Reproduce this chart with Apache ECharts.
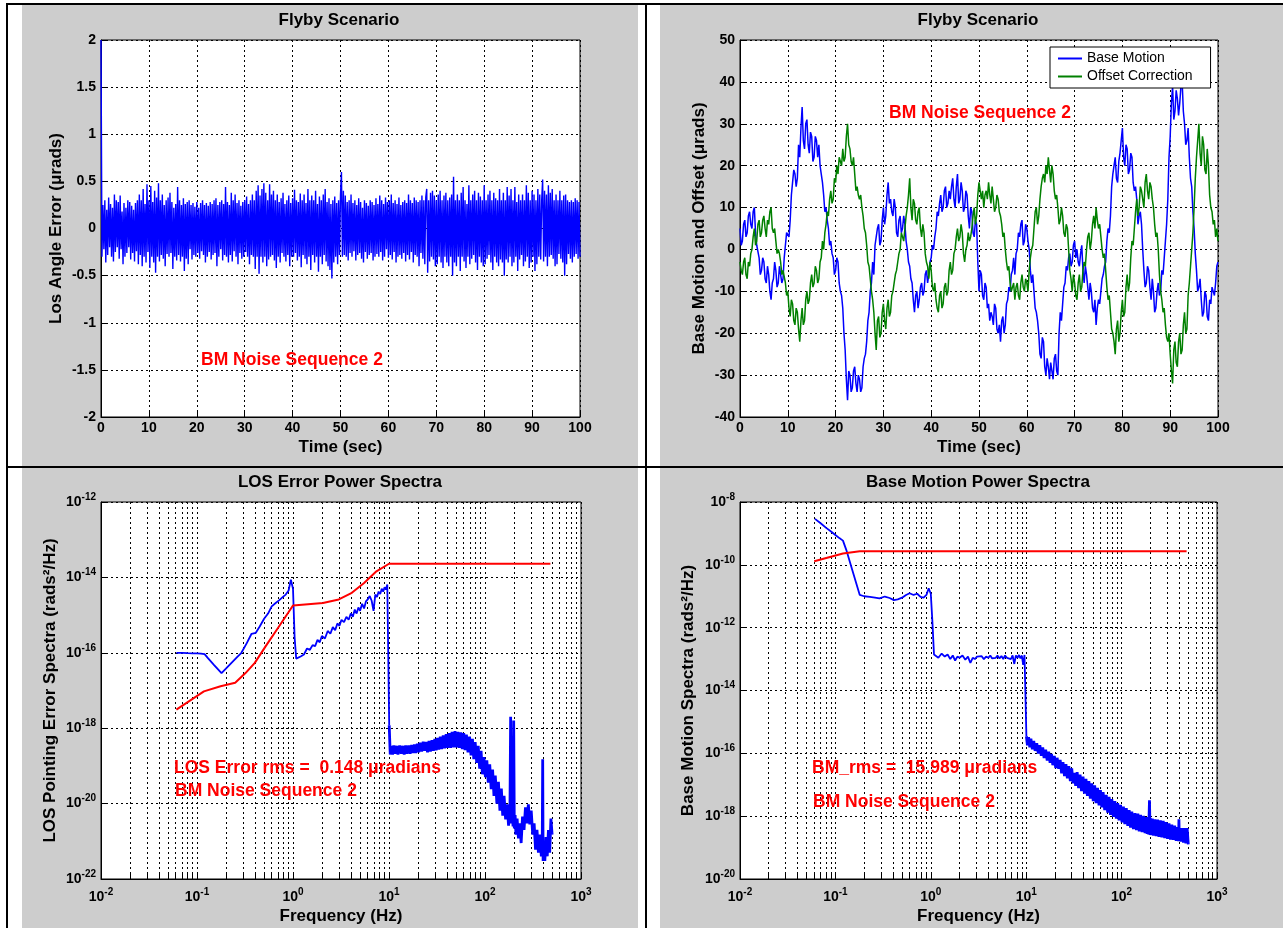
<!DOCTYPE html>
<html><head><meta charset="utf-8">
<script src="https://cdn.jsdelivr.net/npm/echarts@6/dist/echarts.min.js"></script>
<style>
html,body{margin:0;padding:0;background:#fff;width:1283px;height:928px;overflow:hidden;position:relative}
.p{position:absolute;background:#cdcdcd}
.k{position:absolute;background:#000}
#c{position:absolute;left:0;top:0;width:1283px;height:928px}
</style></head><body>
<div class="p" style="left:22px;top:5px;width:616px;height:461px"></div>
<div class="p" style="left:660px;top:5px;width:623px;height:461px"></div>
<div class="p" style="left:22px;top:468px;width:616px;height:460px"></div>
<div class="p" style="left:660px;top:468px;width:623px;height:460px"></div>
<div class="k" style="left:6px;top:3px;width:1277px;height:2px"></div>
<div class="k" style="left:6px;top:3px;width:2px;height:925px"></div>
<div class="k" style="left:645px;top:3px;width:2px;height:925px"></div>
<div class="k" style="left:6px;top:466px;width:1277px;height:2px"></div>
<div id="c"></div>
<script>
// ---------- DATA ----------
const DT_LOS = 0.2;   // sample step (s) of the LOS angle error trace
const losAngleError = [
 2.0,-0.3,0.25,-0.22,0.3,-0.36,0.2,-0.28,0.33,-0.2,
 0.26,-0.3,0.22,-0.35,0.36,-0.25,0.3,-0.2,0.28,-0.32,
 0.35,-0.22,0.18,-0.38,0.27,-0.3,0.22,-0.26,0.3,-0.2,
 0.28,-0.33,0.24,-0.26,0.2,-0.35,0.27,-0.24,0.3,-0.38,
 0.36,-0.28,0.3,-0.4,0.42,-0.3,0.26,-0.36,0.47,-0.25,
 0.3,-0.42,0.45,-0.3,0.28,-0.36,0.4,-0.47,0.33,-0.3,
 0.48,-0.35,0.3,-0.28,0.36,-0.32,0.25,-0.4,0.3,-0.27,
 0.33,-0.3,0.38,-0.26,0.28,-0.43,0.22,-0.3,0.26,-0.34,
 0.44,-0.28,0.3,-0.35,0.25,-0.3,0.32,-0.45,0.26,-0.32,
 0.28,-0.38,0.3,-0.22,0.25,-0.33,0.27,-0.28,0.23,-0.3,
 0.28,-0.26,0.22,-0.32,0.27,-0.24,0.3,-0.28,0.25,-0.36,
 0.27,-0.3,0.24,-0.25,0.28,-0.33,0.26,-0.28,0.3,-0.26,
 0.32,-0.4,0.25,-0.3,0.28,-0.22,0.3,-0.34,0.26,-0.28,
 0.44,-0.3,0.28,-0.36,0.25,-0.28,0.38,-0.35,0.3,-0.24,
 0.36,-0.3,0.27,-0.38,0.3,-0.26,0.24,-0.32,0.28,-0.3,
 0.3,-0.25,0.34,-0.3,0.26,-0.38,0.3,-0.28,0.36,-0.3,
 0.3,-0.43,0.4,-0.3,0.46,-0.48,0.35,-0.3,0.42,-0.36,
 0.48,-0.3,0.38,-0.4,0.3,-0.33,0.47,-0.3,0.36,-0.28,
 0.4,-0.34,0.3,-0.42,0.36,-0.3,0.28,-0.36,0.32,-0.26,
 0.38,-0.3,0.26,-0.35,0.3,-0.28,0.35,-0.4,0.27,-0.3,
 0.32,-0.3,0.41,-0.26,0.3,-0.34,0.28,-0.3,0.37,-0.41,
 0.3,-0.28,0.36,-0.32,0.27,-0.38,0.42,-0.3,0.3,-0.44,
 0.35,-0.28,0.3,-0.36,0.4,-0.3,0.26,-0.46,0.34,-0.3,
 0.3,-0.38,0.36,-0.28,0.42,-0.35,0.28,-0.4,0.32,-0.44,
 0.26,-0.53,0.3,-0.36,0.34,-0.3,0.27,-0.38,0.3,-0.28,
 0.36,0.6,-0.3,0.4,-0.28,0.35,-0.3,0.28,-0.34,0.3,
 -0.26,0.36,-0.3,0.27,-0.24,0.3,-0.34,0.25,-0.28,0.32,
 -0.26,0.28,-0.32,0.22,-0.36,0.3,-0.25,0.27,-0.32,0.24,
 -0.28,0.3,-0.26,0.28,-0.34,0.25,-0.3,0.32,-0.27,0.26,
 -0.3,0.35,-0.25,0.3,-0.34,0.26,-0.3,0.33,-0.22,0.28,
 -0.31,0.3,-0.28,0.36,-0.33,0.27,-0.25,0.3,-0.36,0.26,
 -0.3,0.33,-0.28,0.25,-0.32,0.28,-0.26,0.3,-0.35,0.27,
 -0.28,0.36,-0.33,0.3,-0.25,0.27,-0.36,0.33,-0.28,0.3,
 -0.3,0.28,-0.4,0.3,-0.26,0.35,-0.32,0.3,-0.38,0.33,
 0.42,-0.47,0.3,-0.35,0.38,-0.3,0.4,-0.33,0.35,-0.4,
 0.3,-0.38,0.36,-0.3,0.4,-0.36,0.3,-0.42,0.35,-0.3,
 0.38,-0.36,0.3,-0.4,0.33,-0.3,0.36,-0.5,0.55,-0.36,
 0.3,-0.4,0.36,-0.3,0.3,-0.45,0.38,-0.3,0.44,-0.35,
 0.3,-0.42,0.26,-0.3,0.46,-0.38,0.3,-0.32,0.36,-0.28,
 0.4,-0.36,0.3,-0.44,0.38,-0.3,0.34,-0.36,0.3,-0.4,
 0.46,-0.38,0.3,-0.32,0.36,-0.28,0.4,-0.36,0.3,-0.44,
 0.38,-0.3,0.32,-0.36,0.3,-0.4,0.42,-0.33,0.3,-0.36,
 0.38,-0.5,0.3,-0.33,0.44,-0.36,0.35,-0.3,0.42,-0.4,
 0.3,-0.36,0.44,-0.3,0.28,-0.45,0.36,-0.33,0.3,-0.28,
 0.36,-0.4,0.3,-0.35,0.46,-0.3,0.38,-0.42,0.3,-0.36,
 0.4,-0.3,0.36,-0.45,0.3,-0.38,0.42,-0.3,0.36,-0.33,
 0.3,0.52,-0.35,0.4,-0.3,0.36,-0.4,0.46,-0.3,0.38,
 -0.28,0.42,-0.32,0.3,-0.4,0.36,-0.38,0.3,-0.27,0.4,
 -0.32,0.3,-0.36,0.35,-0.5,0.36,-0.38,0.3,-0.27,0.28,
 -0.32,0.3,-0.36,0.28,-0.3,0.32,-0.27,0.3,-0.32,0.28,
 -0.3
];

const DT_BM = 0.25;   // sample step (s) of the base motion / offset traces
const baseMotion = [
 5,1,2,6,7,3,4,8,9,6,5,9,10,4,1,1,-2,-6,-5,-2,
 -3,-7,-8,-4,-6,-10,-12,-8,-7,-3,-5,-9,-8,-4,-4,-8,-7,-2,1,4,
 4,3,7,13,16,19,18,15,17,25,22,29,34,26,24,30,31,25,23,28,
 27,21,22,27,26,22,25,20,18,16,13,9,10,7,5,1,2,-1,-2,-6,
 -5,-2,-3,-8,-10,-11,-14,-20,-24,-31,-36,-29,-30,-34,-33,-29,-28,-32,-34,-30,
 -31,-34,-33,-28,-26,-25,-22,-17,-15,-10,-8,-3,-6,1,3,5,6,1,2,7,
 10,6,8,13,16,11,12,9,8,12,10,4,3,7,8,4,5,8,6,2,
 0,-3,-4,-7,-8,-12,-15,-11,-10,-14,-12,-9,-8,-11,-10,-6,-5,-8,-6,-3,
 -2,1,0,3,5,9,8,11,13,9,10,14,15,10,11,14,12,15,17,12,
 10,15,18,11,12,16,14,9,10,14,13,8,5,10,9,4,3,7,6,-3,
 -10,-5,-6,-11,-12,-8,-9,-14,-13,-17,-15,-16,-18,-13,-14,-19,-20,-18,-22,-17,
 -16,-20,-18,-13,-12,-9,-10,-6,-5,-2,-6,-1,0,4,3,6,7,1,2,6,
 5,2,0,-5,-8,-6,-10,-14,-15,-17,-20,-25,-26,-21,-22,-28,-30,-26,-28,-31,
 -27,-29,-31,-26,-25,-29,-30,-20,-15,-17,-13,-9,-8,-4,-5,-2,-1,-4,-3,1,
 2,-2,0,-3,-4,-1,1,-5,-8,-4,-6,-9,-12,-8,-10,-14,-15,-12,-18,-14,
 -12,-13,-10,-7,-6,-4,-3,2,5,4,8,15,18,20,22,17,16,21,23,26,
 29,22,20,25,24,18,19,23,22,16,14,15,12,6,8,9,6,0,-5,-9,
 -8,-4,-5,-9,-12,-7,-10,-15,-14,-10,-8,-11,-10,-5,-6,-2,2,6,12,22,
 27,35,39,31,33,38,36,32,35,39,40,33,30,25,26,29,22,17,15,9,
 5,-1,-5,-10,-9,-7,-12,-16,-15,-10,-11,-16,-17,-12,-13,-9,-10,-11,-8,-4,
 -3
];
const offsetCorrection = [
 -3,-5,-6,-3,-2,-6,-7,-3,-4,-1,0,3,5,1,2,6,7,3,4,7,
 8,5,3,7,6,9,10,5,4,5,2,-1,0,-1,-3,-6,-5,-5,-8,-11,
 -10,-14,-16,-12,-13,-17,-18,-14,-15,-19,-22,-17,-14,-18,-17,-12,-10,-13,-12,-8,
 -6,-9,-8,-4,-5,-8,-7,-3,-2,2,0,4,6,9,8,12,14,11,12,17,
 16,20,18,22,21,20,24,21,22,27,30,25,24,21,20,22,18,14,15,13,
 12,13,10,8,5,4,1,-3,-4,-7,-10,-12,-15,-20,-24,-17,-16,-21,-20,-15,
 -13,-17,-19,-14,-12,-16,-15,-11,-10,-8,-6,-5,-3,-1,0,4,3,2,5,8,
 10,13,17,10,7,12,11,7,6,9,10,5,3,6,4,-1,-3,-4,-7,-3,
 -5,-9,-10,-8,-12,-14,-15,-11,-10,-14,-13,-9,-8,-11,-10,-5,-3,-6,-5,-1,
 0,3,5,2,3,6,4,-1,-3,0,1,4,2,3,5,8,10,6,8,13,
 16,14,12,14,10,13,14,12,16,13,11,15,12,9,10,13,12,9,8,6,
 3,4,0,-3,-5,-4,-8,-10,-10,-8,-12,-9,-8,-11,-12,-8,-6,-9,-10,-7,
 -8,-10,-5,-2,0,1,5,9,10,6,8,12,15,17,18,16,20,18,22,19,
 16,20,18,14,12,13,10,6,7,10,8,4,3,6,5,0,-5,-7,-10,-6,
 -8,-11,-12,-8,-6,-10,-9,-5,-3,-4,0,3,4,0,2,6,8,5,10,7,
 5,6,3,0,-2,-1,-5,-9,-12,-11,-15,-19,-20,-22,-25,-19,-17,-22,-20,-15,
 -12,-16,-15,-9,-6,-10,-8,-2,2,1,5,9,12,8,10,15,14,12,10,16,
 18,14,12,16,15,12,10,6,3,4,0,-6,-10,-12,-15,-14,-18,-21,-22,-20,
 -25,-29,-32,-24,-22,-27,-28,-22,-20,-25,-24,-18,-15,-20,-19,-11,-8,-4,0,4,
 10,17,22,26,30,23,20,27,25,19,18,24,20,13,10,9,6,7,3,5,
 2
];

// frequency grid (Hz) shared by both power spectra
const psdFreq = [
 0.061,0.07,0.08,0.09,0.1,0.11,0.12,0.13,0.15,0.18,
 0.2,0.23,0.26,0.29,0.33,0.37,0.41,0.45,0.5,0.55,
 0.6,0.66,0.72,0.78,0.84,0.9,0.95,1.0,1.04,1.08,
 1.13,1.2,1.3,1.4,1.5,1.6,1.7,1.8,1.9,2.0,
 2.15,2.3,2.45,2.6,2.75,2.9,3.05,3.2,3.4,3.6,
 3.8,4.0,4.2,4.4,4.6,4.8,5.0,5.25,5.5,5.75,
 6.0,6.3,6.6,6.9,7.2,7.5,7.8,8.1,8.4,8.7,
 9.0,9.3,9.6,9.9,10.05,10.3,10.6,10.9,11.2,11.6,
 12.0,12.4,12.9,13.4,13.9,14.4,14.9,15.4,16.0,16.6,
 17.2,17.8,18.4,19.0,19.7,20.4,21.1,21.9,22.7,23.5,
 24.3,25.2,26.1,27.0,28.0,29.0,30.0,31.0,32.0,33.0,
 34.2,35.4,36.7,38.0,39.4,40.8,42.3,43.8,45.4,47.0,
 48.7,50.4,52.2,54.0,56.0,58.0,60.0,62.0,64.0,66.5,
 69.0,71.5,74.0,76.5,79.0,82.0,85.0,88.0,91.0,94.0,
 97.5,101,104.5,108,112,116,120,124,128,133,
 138,143,148,153,158,164,170,176,182,185,
 188,192,196,199,202,206,210,216,223,230,
 238,246,255,264,273,283,293,303,314,325,
 336,348,360,373,386,395,399,403,410,420,
 432,445,458,472,486,500
];
const losPsd = [
 1.0e-16,1.0e-16,9.8e-17,9.7e-17,9.6e-17,9.5e-17,9.2e-17,7.2e-17,4.8e-17,2.9e-17,
 3.8e-17,5.5e-17,7.6e-17,1.0e-16,1.8e-16,3.2e-16,3.4e-16,5.0e-16,8.0e-16,1.1e-15,
 1.7e-15,2.1e-15,2.5e-15,3.0e-15,3.5e-15,4.5e-15,8.7e-15,5.0e-15,2.5e-16,7.0e-17,
 6.5e-17,8.0e-17,9.0e-17,1.3e-16,1.2e-16,1.6e-16,1.5e-16,2.2e-16,1.9e-16,2.8e-16,
 2.4e-16,3.8e-16,3.2e-16,4.8e-16,4.0e-16,6.0e-16,5.2e-16,7.5e-16,6.5e-16,9.0e-16,
 7.5e-16,1.1e-15,9.0e-16,1.4e-15,1.1e-15,1.6e-15,1.3e-15,2.0e-15,1.5e-15,2.3e-15,
 2.6e-15,3.2e-15,2.4e-15,1.3e-15,3.5e-15,3.0e-15,4.2e-15,3.6e-15,5.0e-15,4.2e-15,
 5.5e-15,4.8e-15,6.5e-15,5.8e-15,1.2e-18,2.0e-19,3.4e-19,2.0e-19,3.5e-19,2.1e-19,
 3.4e-19,2.0e-19,3.5e-19,2.1e-19,3.4e-19,2.0e-19,3.5e-19,2.1e-19,3.5e-19,2.1e-19,
 3.6e-19,2.2e-19,3.7e-19,2.2e-19,3.9e-19,2.3e-19,4.1e-19,2.4e-19,4.4e-19,2.5e-19,
 4.3e-19,2.3e-19,4.6e-19,2.4e-19,4.8e-19,2.5e-19,5.2e-19,2.6e-19,5.5e-19,2.7e-19,
 6.0e-19,2.8e-19,6.4e-19,2.9e-19,7.0e-19,3.0e-19,7.4e-19,3.0e-19,8.0e-19,3.1e-19,
 8.4e-19,3.1e-19,8.0e-19,3.0e-19,7.8e-19,2.8e-19,7.4e-19,2.6e-19,6.8e-19,2.3e-19,
 6.0e-19,1.9e-19,5.2e-19,1.5e-19,4.3e-19,1.2e-19,3.4e-19,8.5e-20,2.5e-19,6.0e-20,
 1.7e-19,5.0e-20,1.4e-19,3.6e-20,1.1e-19,2.4e-20,8.0e-20,1.6e-20,5.5e-20,1.0e-20,
 3.8e-20,6.5e-21,2.5e-20,4.8e-21,1.6e-20,3.8e-21,9.5e-21,2.6e-21,7.0e-21,2.0e-18,
 3.0e-21,6.0e-21,2.5e-21,1.6e-18,2.2e-21,5.0e-21,1.5e-21,4.0e-21,1.2e-21,3.0e-21,
 9.0e-22,4.5e-21,2.0e-21,8.0e-21,3.0e-21,9.5e-21,2.8e-21,6.5e-21,1.5e-21,3.0e-21,
 6.0e-22,2.0e-21,5.0e-22,1.5e-21,4.0e-22,1.2e-21,1.5e-19,3.0e-22,1.0e-21,3.0e-22,
 1.3e-21,4.0e-22,2.0e-21,5.0e-22,4.0e-21,1.5e-21
];
const bmPsd = [
 2.9e-9,2.1e-9,1.5e-9,1.15e-9,8.9e-10,7.1e-10,5.9e-10,3.0e-10,7.0e-11,1.1e-11,
 1.0e-11,9.5e-12,9.0e-12,8.5e-12,9.8e-12,8.8e-12,7.5e-12,8.0e-12,9.0e-12,1.1e-11,
 1.25e-11,1.1e-11,1.2e-11,9.5e-12,9.0e-12,1.1e-11,1.8e-11,1.2e-11,1.5e-12,1.4e-13,
 1.6e-13,1.1e-13,1.5e-13,1.2e-13,1.4e-13,1.0e-13,1.3e-13,9.0e-14,1.2e-13,1.1e-13,
 1.3e-13,9.5e-14,1.2e-13,7.5e-14,1.1e-13,1.0e-13,1.2e-13,1.05e-13,1.25e-13,1.0e-13,
 1.2e-13,1.1e-13,1.3e-13,1.05e-13,1.2e-13,1.1e-13,1.3e-13,1.05e-13,1.25e-13,1.0e-13,
 1.3e-13,1.1e-13,1.25e-13,1.0e-13,1.3e-13,7.0e-14,1.3e-13,1.1e-13,1.35e-13,1.05e-13,
 1.3e-13,6.5e-14,1.35e-13,1.2e-13,3.5e-16,1.8e-16,3.3e-16,1.55e-16,2.9e-16,1.35e-16,
 2.5e-16,1.2e-16,2.1e-16,9.8e-17,1.8e-16,8.3e-17,1.55e-16,7.1e-17,1.3e-16,5.9e-17,
 1.12e-16,5.0e-17,9.6e-17,4.2e-17,8.3e-17,3.4e-17,7.2e-17,3.2e-17,6.2e-17,2.3e-17,
 5.2e-17,1.9e-17,4.5e-17,1.6e-17,3.9e-17,1.3e-17,3.3e-17,1.1e-17,2.4e-17,9.3e-18,
 2.5e-17,7.8e-18,2.1e-17,6.3e-18,1.8e-17,5.2e-18,1.55e-17,4.4e-18,1.3e-17,3.6e-18,
 1.1e-17,3.0e-18,9.5e-18,2.6e-18,7.9e-18,2.2e-18,6.8e-18,1.9e-18,5.8e-18,1.55e-18,
 4.8e-18,1.3e-18,4.1e-18,1.1e-18,3.5e-18,9.5e-19,3.0e-18,8.3e-19,2.6e-18,7.4e-19,
 2.3e-18,6.3e-19,2.0e-18,5.6e-19,1.8e-18,4.9e-19,1.55e-18,4.3e-19,1.4e-18,3.9e-19,
 1.26e-18,3.6e-19,1.2e-18,3.3e-19,1.1e-18,3.1e-19,1.02e-18,2.9e-19,9.3e-19,2.7e-19,
 9.1e-19,2.6e-19,3.2e-18,2.5e-19,8.5e-19,2.5e-19,8.3e-19,2.4e-19,7.9e-19,2.3e-19,
 7.7e-19,2.2e-19,7.4e-19,2.1e-19,7.1e-19,2.0e-19,6.5e-19,1.9e-19,5.9e-19,1.8e-19,
 5.4e-19,1.75e-19,5.0e-19,1.65e-19,4.5e-19,1.6e-19,7.9e-19,1.6e-19,4.2e-19,1.55e-19,
 4.2e-19,1.45e-19,4.2e-19,1.35e-19,4.2e-19,1.26e-19
];
const PSD_BAND_START = 74;  // index of the first point above 10 Hz (noisy band)
// requirement curves (red)
const losReqFreq = [0.061,0.118,0.176,0.25,0.32,0.4,0.52,0.7,0.89,1.0,2.05,3.0,4.1,5.5,7.4,10,480];
const losReq = [3.1e-18,9.5e-18,1.3e-17,1.6e-17,2.9e-17,5.4e-17,1.5e-16,4.6e-16,1.15e-15,1.8e-15,2.1e-15,2.6e-15,3.9e-15,7.1e-15,1.45e-14,2.3e-14,2.3e-14];
const bmReqFreq = [0.06,0.12,0.18,480];
const bmReq = [1.3e-10,2.3e-10,2.7e-10,2.7e-10];

// tick positions
const freqGridTicks = [0.01,0.02,0.03,0.04,0.05,0.06,0.07,0.08,0.09,
 0.1,0.2,0.3,0.4,0.5,0.6,0.7,0.8,0.9,
 1,2,3,4,5,6,7,8,9,
 10,20,30,40,50,60,70,80,90,
 100,200,300,400,500,600,700,800,900,1000];
const freqLabelTicks = [0.01,0.1,1,10,100,1000];
const losPsdTicks = [1e-22,1e-20,1e-18,1e-16,1e-14,1e-12];
const bmPsdTicks = [1e-20,1e-18,1e-16,1e-14,1e-12,1e-10,1e-8];

// ---------- CHART ----------
const FONT = "'Liberation Sans', Arial, Helvetica, sans-serif";
const BLACK = '#000';
const nameStyle = {fontFamily:FONT,fontWeight:'bold',fontSize:17,color:BLACK};
const labelBase = {fontFamily:FONT,fontWeight:'bold',fontSize:14,color:BLACK};
const gridLine = {show:true,lineStyle:{color:BLACK,width:1,type:[2,3]}};
const supRich = {
  b:{fontFamily:FONT,fontWeight:'bold',fontSize:14,color:BLACK,lineHeight:20},
  s:{fontFamily:FONT,fontWeight:'bold',fontSize:10,color:BLACK,lineHeight:10,verticalAlign:'top'}
};
function supLabel(v){ return '{b|10}{s|' + Math.round(Math.log10(v)) + '}'; }

function linAxis(gridIndex, position, min, max, interval, name, nameGap){
  return {
    type:'value', gridIndex, position, min, max, interval,
    name, nameLocation:'middle', nameGap, nameRotate: position==='left'?90:0,
    nameTextStyle:nameStyle,
    axisLine:{show:true,onZero:false,lineStyle:{color:BLACK,width:1}},
    axisTick:{show:true,inside:true,length:5,lineStyle:{color:BLACK}},
    axisLabel:Object.assign({margin: position==='left'?5:4}, labelBase),
    splitLine:gridLine
  };
}
function logAxis(gridIndex, position, min, max, ticks, labels, name, nameGap, margin){
  return {
    type:'log', logBase:10, gridIndex, position, min, max,
    name, nameLocation:'middle', nameGap, nameRotate: position==='left'?90:0,
    nameTextStyle:nameStyle,
    axisLine:{show:true,onZero:false,lineStyle:{color:BLACK,width:1}},
    axisTick:{show:true,inside:true,length:5,customValues:ticks,lineStyle:{color:BLACK}},
    axisLabel:{customValues:labels,margin,formatter:supLabel,rich:supRich},
    splitLine:gridLine
  };
}
const gridBase = {show:true,backgroundColor:'#fff',borderColor:BLACK,borderWidth:1,outerBoundsMode:'none'};
const pairs = (xs, ys) => ys.map((y,i)=>[xs[i], y]);
const timed = (ys, dt) => ys.map((y,i)=>[+(i*dt).toFixed(2), y]);
const losPairs = pairs(psdFreq, losPsd);
const bmPairs = pairs(psdFreq, bmPsd);

const titleStyle = {fontFamily:FONT,fontWeight:'bold',fontSize:17,color:BLACK};
const redText = (left, top, text) => ({type:'text', left, top, z:50,
  style:{text, fill:'#ff0000', font:"bold 17.5px 'Liberation Sans', Arial, sans-serif"}});
const blueLine = (name, xi, yi, data, width, z) => ({type:'line', name, xAxisIndex:xi, yAxisIndex:yi, data,
  symbol:'none', lineStyle:{color:'#0000ff',width}, itemStyle:{color:'#0000ff'}, z:z||3});

const chart = echarts.init(document.getElementById('c'), null, {renderer:'canvas'});
chart.setOption({
  animation:false,
  backgroundColor:'transparent',
  title:[
    {text:'Flyby Scenario', left:339, top:12, textAlign:'center', padding:0, textStyle:titleStyle},
    {text:'Flyby Scenario', left:978, top:12, textAlign:'center', padding:0, textStyle:titleStyle},
    {text:'LOS Error Power Spectra', left:340, top:474, textAlign:'center', padding:0, textStyle:titleStyle},
    {text:'Base Motion Power Spectra', left:978, top:474, textAlign:'center', padding:0, textStyle:titleStyle}
  ],
  grid:[
    Object.assign({left:101, top:40, width:479, height:377}, gridBase),
    Object.assign({left:740, top:40, width:478, height:377}, gridBase),
    Object.assign({left:101, top:502, width:480, height:377}, gridBase),
    Object.assign({left:740, top:502, width:477, height:377}, gridBase)
  ],
  xAxis:[
    linAxis(0,'bottom',0,100,10,'Time (sec)',22),
    linAxis(1,'bottom',0,100,10,'Time (sec)',22),
    logAxis(2,'bottom',0.01,1000,freqGridTicks,freqLabelTicks,'Frequency (Hz)',29,8),
    logAxis(3,'bottom',0.01,1000,freqGridTicks,freqLabelTicks,'Frequency (Hz)',29,8)
  ],
  yAxis:[
    linAxis(0,'left',-2,2,0.5,'Los Angle Error (μrads)',36),
    linAxis(1,'left',-40,50,10,'Base Motion and Offset (μrads)',32),
    logAxis(2,'left',1e-22,1e-12,losPsdTicks,losPsdTicks,'LOS Pointing Error Spectra (rads²/Hz)',42,5),
    logAxis(3,'left',1e-20,1e-8,bmPsdTicks,bmPsdTicks,'Base Motion Spectra (rads²/Hz)',43,5)
  ],
  legend:{
    show:true, orient:'vertical', left:1050, top:47,
    padding:[4,18,4,8], itemGap:3, itemWidth:24, itemHeight:2, icon:'rect',
    backgroundColor:'#fff', borderColor:BLACK, borderWidth:1, borderRadius:0,
    textStyle:{fontFamily:FONT,fontSize:14,color:BLACK,lineHeight:15},
    data:['Base Motion','Offset Correction']
  },
  series:[
    blueLine('LOS Angle Error',0,0,timed(losAngleError, DT_LOS),1.4),
    blueLine('Base Motion',1,1,timed(baseMotion, DT_BM),1.5),
    {type:'line', name:'Offset Correction', xAxisIndex:1, yAxisIndex:1, data:timed(offsetCorrection, DT_BM),
     symbol:'none', lineStyle:{color:'#008000',width:1.5}, itemStyle:{color:'#008000'}, z:4},
    blueLine('LOS PSD',2,2,losPairs.slice(0, PSD_BAND_START+1),1.8),
    blueLine('LOS PSD (above 10 Hz)',2,2,losPairs.slice(PSD_BAND_START),2.8),
    {type:'line', name:'LOS Requirement', xAxisIndex:2, yAxisIndex:2, data:pairs(losReqFreq, losReq),
     symbol:'none', lineStyle:{color:'#ff0000',width:2}, itemStyle:{color:'#ff0000'}, z:4},
    blueLine('BM PSD',3,3,bmPairs.slice(0, PSD_BAND_START+1),1.8),
    blueLine('BM PSD (above 10 Hz)',3,3,bmPairs.slice(PSD_BAND_START),2.8),
    {type:'line', name:'BM Requirement', xAxisIndex:3, yAxisIndex:3, data:pairs(bmReqFreq, bmReq),
     symbol:'none', lineStyle:{color:'#ff0000',width:2}, itemStyle:{color:'#ff0000'}, z:4}
  ],
  graphic:[
    redText(201, 351, 'BM Noise Sequence 2'),
    redText(889, 104, 'BM Noise Sequence 2'),
    redText(174, 759, 'LOS Error rms =  0.148 μradians'),
    redText(175, 782, 'BM Noise Sequence 2'),
    redText(812, 759, 'BM_rms =  15.989 μradians'),
    redText(813, 793, 'BM Noise Sequence 2')
  ]
});
</script>
</body></html>
